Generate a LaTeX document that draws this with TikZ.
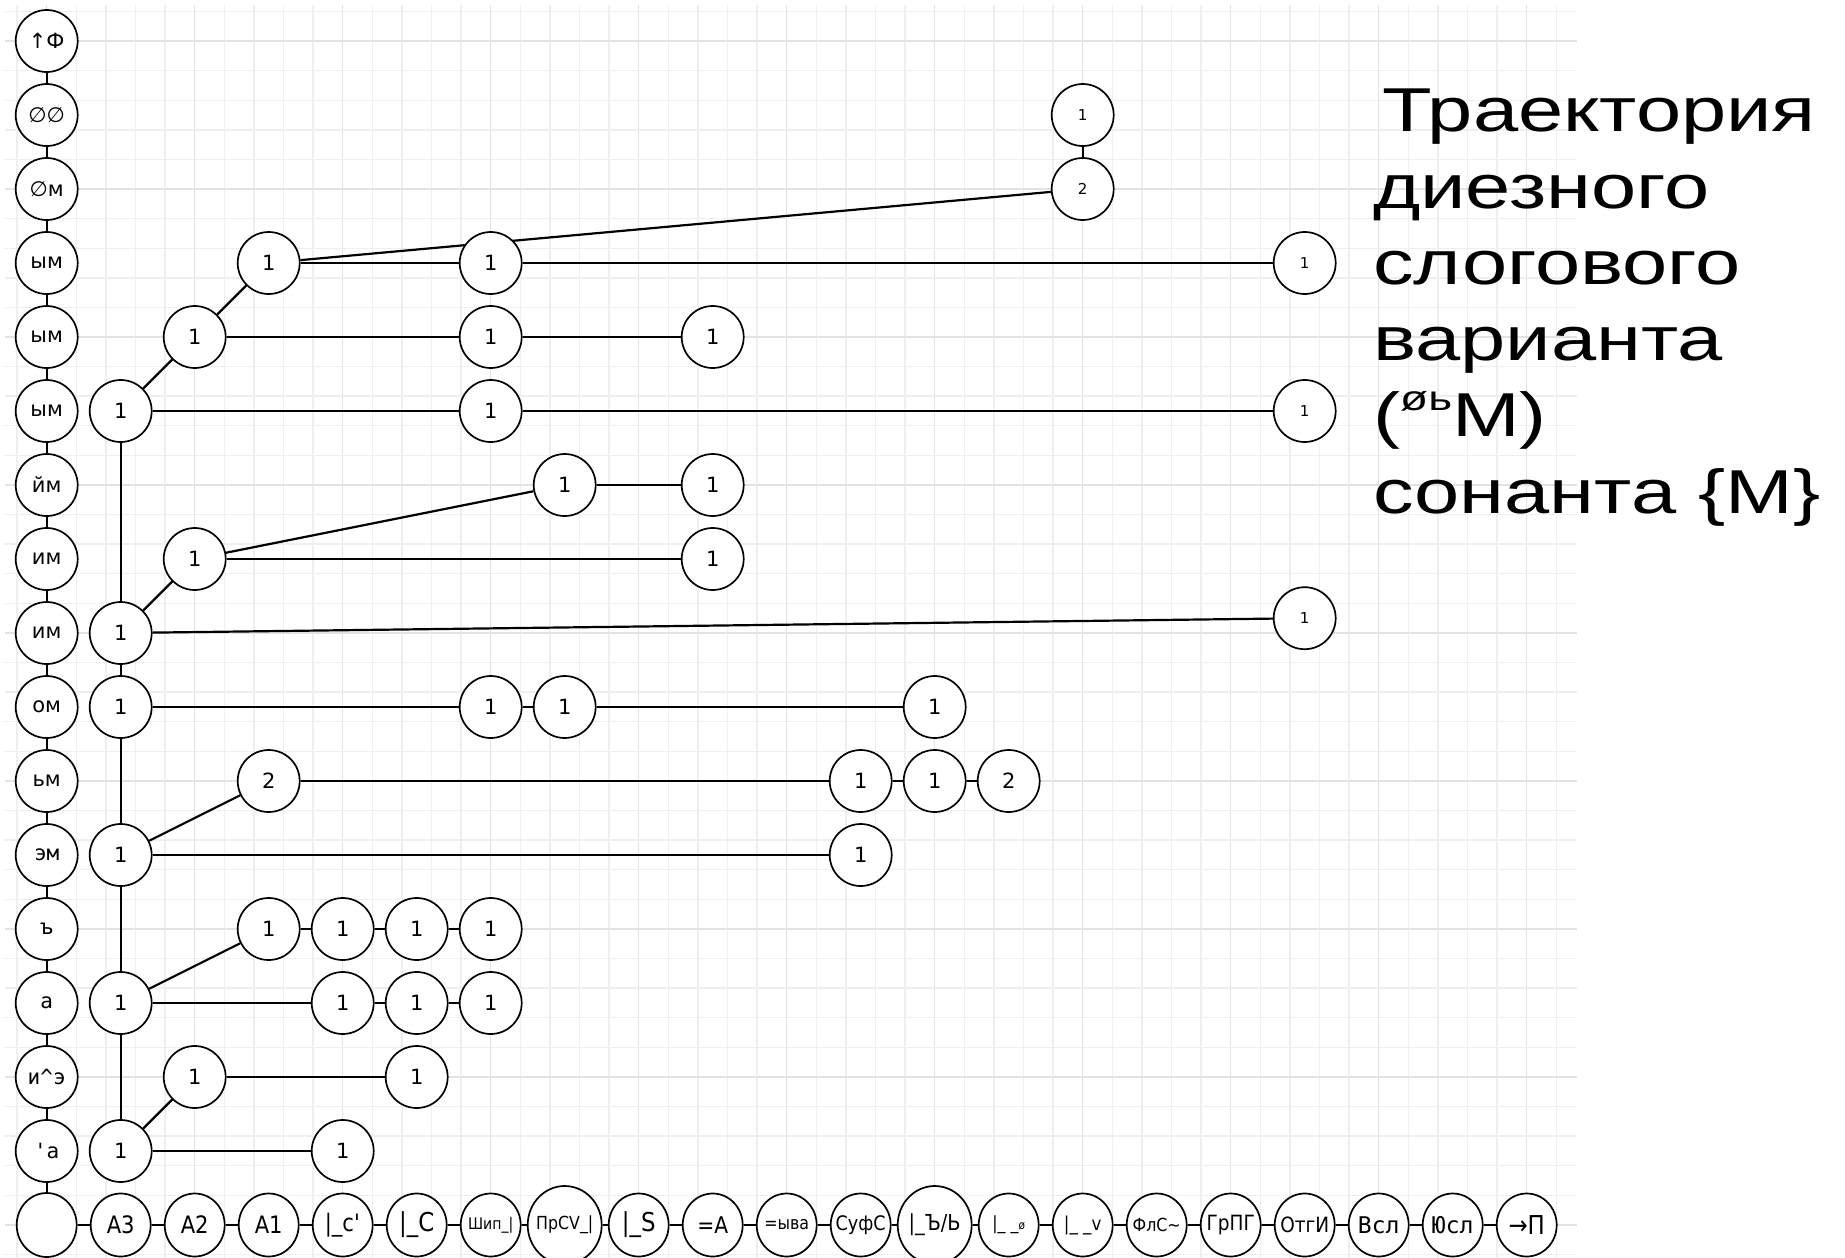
\documentclass[tikz,border=0pt]{standalone}
\usepackage{fontspec}
\setmainfont{DejaVu Sans}
\newfontfamily\titlefont[FakeStretch=1.31]{Liberation Sans}
\newfontfamily\monof{DejaVu Sans Mono}
\newfontfamily\condf[FakeStretch=0.88]{DejaVu Sans}
\usetikzlibrary{shapes.geometric}
\pgfdeclarelayer{gridlayer}
\pgfdeclarelayer{edgelayer}
\pgfsetlayers{gridlayer,edgelayer,main}
\definecolor{gminor}{HTML}{EFEFEF}
\definecolor{gmajor}{HTML}{E3E3E3}
\newcommand\bl[1]{\makebox[0pt]{#1}}
\tikzset{
  cnode/.style={circle, draw=black, line width=0.85pt, fill=white, minimum size=31pt, inner sep=0pt, font=\fontsize{10.5pt}{12pt}\selectfont},
  smalln/.style={cnode, font=\fontsize{7.5pt}{9pt}\selectfont},
  monon/.style={cnode, font=\monof\fontsize{10.5pt}{12pt}\selectfont},
  bnode/.style={ellipse, draw=black, line width=0.85pt, fill=white, minimum width=30pt, minimum height=31.5pt, inner sep=0pt, font=\condf\fontsize{12pt}{14pt}\selectfont},
  bigb/.style={bnode, minimum width=37pt, minimum height=39pt},
  conn/.style={line width=1.1pt, black},
  titletext/.style={anchor=base west, inner sep=0pt, font=\titlefont\fontsize{31pt}{38pt}\selectfont},
}
\begin{document}
\begin{tikzpicture}[x=37pt,y=-37pt]
\useasboundingbox (-0.6311,-0.5541) rectangle (24.3014,16.4459);
% left column
\node[cnode] (L0) at (0,0) {↑Ф};
\node[cnode] (L1) at (0,1) {∅∅};
\node[cnode] (L2) at (0,2) {∅м};
\node[cnode] (L3) at (0,3) {ым};
\node[cnode] (L4) at (0,4) {ым};
\node[cnode] (L5) at (0,5) {ым};
\node[cnode] (L6) at (0,6) {йм};
\node[cnode] (L7) at (0,7) {им};
\node[cnode] (L8) at (0,8) {им};
\node[cnode] (L9) at (0,9) {ом};
\node[cnode] (L10) at (0,10) {ьм};
\node[monon] (L11) at (0,11) {эм};
\node[monon] (L12) at (0,12) {ъ};
\node[monon] (L13) at (0,13) {а};
\node[monon] (L14) at (0,14) {и\textasciicircum э};
\node[monon] (L15) at (0,15) {\textquotesingle а};
\node[bnode, minimum height=32pt] (L16) at (0,16) {};
% bottom row
\node[bnode] (B1) at (1,16) {\bl{А3}};
\node[bnode] (B2) at (2,16) {\bl{А2}};
\node[bnode] (B3) at (3,16) {\bl{А1}};
\node[bnode] (B4) at (4,16) {\bl{|\_с\textquotesingle}};
\node[bnode, font=\condf\fontsize{13pt}{15pt}\selectfont] (B5) at (5,16) {\bl{|\_С}};
\node[bnode, font=\condf\fontsize{8pt}{10pt}\selectfont] (B6) at (6,16) {\bl{Шип\_|}};
\node[bigb, font=\condf\fontsize{9pt}{11pt}\selectfont] (B7) at (7,16) {\bl{ПрCV\_|}};
\node[bnode, font=\condf\fontsize{13pt}{15pt}\selectfont] (B8) at (8,16) {\bl{|\_S}};
\node[bnode, font=\condf\fontsize{11.5pt}{13pt}\selectfont] (B9) at (9,16) {\bl{=А}};
\node[bnode, font=\condf\fontsize{9pt}{11pt}\selectfont] (B10) at (10,16) {\bl{=ыва}};
\node[bnode, font=\condf\fontsize{10pt}{12pt}\selectfont] (B11) at (11,16) {\bl{СуфС}};
\node[bigb, font=\condf\fontsize{11pt}{13pt}\selectfont] (B12) at (12,16) {\bl{|\_Ъ/Ь}};
\node[bnode, font=\condf\fontsize{9pt}{11pt}\selectfont] (B13) at (13,16) {\bl{|\_ \_{\fontsize{6pt}{7pt}\selectfont ø}}};
\node[bnode, font=\condf\fontsize{9.5pt}{11pt}\selectfont] (B14) at (14,16) {\bl{|\_ \_v}};
\node[bnode, font=\condf\fontsize{9pt}{11pt}\selectfont] (B15) at (15,16) {\bl{ФлС\textasciitilde}};
\node[bnode, font=\condf\fontsize{10.5pt}{12pt}\selectfont] (B16) at (16,16) {\bl{ГрПГ}};
\node[bnode, font=\condf\fontsize{10.5pt}{12pt}\selectfont] (B17) at (17,16) {\bl{ОтгИ}};
\node[bnode, font=\monof\fontsize{11.5pt}{13pt}\selectfont] (B18) at (18,16) {\bl{Всл}};
\node[bnode, font=\monof\fontsize{11.5pt}{13pt}\selectfont] (B19) at (19,16) {\bl{Юсл}};
\node[bnode, font=\condf\fontsize{13pt}{15pt}\selectfont] (B20) at (20,16) {\bl{→П}};
% inner nodes
\node[smalln] (a14r1) at (14,1) {1};
\node[smalln] (a14r2) at (14,2) {2};
\node[cnode] (a3r3) at (3,3) {1};
\node[cnode] (a6r3) at (6,3) {1};
\node[smalln] (a17r3) at (17,3) {1};
\node[cnode] (a2r4) at (2,4) {1};
\node[cnode] (a6r4) at (6,4) {1};
\node[cnode] (a9r4) at (9,4) {1};
\node[cnode] (a1r5) at (1,5) {1};
\node[cnode] (a6r5) at (6,5) {1};
\node[smalln] (a17r5) at (17,5) {1};
\node[cnode] (a7r6) at (7,6) {1};
\node[cnode] (a9r6) at (9,6) {1};
\node[cnode] (a2r7) at (2,7) {1};
\node[cnode] (a9r7) at (9,7) {1};
\node[cnode] (a1r8) at (1,8) {1};
\node[smalln] (a17r8) at (17,7.8) {1};
\node[cnode] (a1r9) at (1,9) {1};
\node[cnode] (a6r9) at (6,9) {1};
\node[cnode] (a7r9) at (7,9) {1};
\node[cnode] (a12r9) at (12,9) {1};
\node[cnode] (a3r10) at (3,10) {2};
\node[cnode] (a11r10) at (11,10) {1};
\node[cnode] (a12r10) at (12,10) {1};
\node[cnode] (a13r10) at (13,10) {2};
\node[cnode] (a1r11) at (1,11) {1};
\node[cnode] (a11r11) at (11,11) {1};
\node[cnode] (a3r12) at (3,12) {1};
\node[cnode] (a4r12) at (4,12) {1};
\node[cnode] (a5r12) at (5,12) {1};
\node[cnode] (a6r12) at (6,12) {1};
\node[cnode] (a1r13) at (1,13) {1};
\node[cnode] (a4r13) at (4,13) {1};
\node[cnode] (a5r13) at (5,13) {1};
\node[cnode] (a6r13) at (6,13) {1};
\node[cnode] (a2r14) at (2,14) {1};
\node[cnode] (a5r14) at (5,14) {1};
\node[cnode] (a1r15) at (1,15) {1};
\node[cnode] (a4r15) at (4,15) {1};
% title
\node[titletext] (t1) at (18.05,1.226) {Траектория};
\node[titletext] (t2) at (17.92,2.257) {диезного};
\node[titletext] (t3) at (17.92,3.288) {слогового};
\node[titletext] (t4) at (17.92,4.319) {варианта};
\node[titletext] (t5) at (17.92,5.350) {(\raisebox{13pt}{\fontsize{17.5pt}{18pt}\selectfont øь}М)};
\node[titletext] (t6) at (17.92,6.381) {сонанта \{М\}};
% connectors
\begin{pgfonlayer}{edgelayer}
\foreach \a/\b in {L0/L1,L1/L2,L2/L3,L3/L4,L4/L5,L5/L6,L6/L7,L7/L8,L8/L9,L9/L10,L10/L11,L11/L12,L12/L13,L13/L14,L14/L15,L15/L16,
  L16/B1,B1/B2,B2/B3,B3/B4,B4/B5,B5/B6,B6/B7,B7/B8,B8/B9,B9/B10,B10/B11,B11/B12,B12/B13,B13/B14,B14/B15,B15/B16,B16/B17,B17/B18,B18/B19,B19/B20,
  a1r5/a1r8,a1r8/a1r9,a1r9/a1r11,a1r11/a1r13,a1r13/a1r15,
  a1r15/a2r14,a2r14/a5r14,a1r15/a4r15,
  a1r13/a3r12,a3r12/a4r12,a4r12/a5r12,a5r12/a6r12,a1r13/a4r13,a4r13/a5r13,a5r13/a6r13,
  a1r11/a3r10,a3r10/a11r10,a11r10/a12r10,a12r10/a13r10,a1r11/a11r11,
  a1r9/a6r9,a6r9/a7r9,a7r9/a12r9,
  a1r8/a2r7,a2r7/a7r6,a2r7/a9r7,a7r6/a9r6,a1r8/a17r8,
  a1r5/a2r4,a2r4/a3r3,a3r3/a6r3,a6r3/a17r3,a3r3/a14r2,a14r2/a14r1,a2r4/a6r4,a6r4/a9r4,a1r5/a6r5,a6r5/a17r5}
  \draw[conn] (\a) -- (\b);
\end{pgfonlayer}
% grid
\begin{pgfonlayer}{gridlayer}
\fill[white] (-0.6311,-0.5541) rectangle (24.3014,16.4459);
\foreach \k in {-1,...,51}{
  \pgfmathtruncatemacro\mm{mod(\k+5,5)}
  \ifnum\mm=0 \draw[gmajor,line width=0.7pt] ({0.4*\k},-0.486) -- ({0.4*\k},16.4459);
  \else \draw[gminor,line width=0.7pt] ({0.4*\k},-0.486) -- ({0.4*\k},16.4459); \fi
}
\foreach \k in {-1,...,41}{
  \pgfmathtruncatemacro\mm{mod(\k+5,5)}
  \ifnum\mm=0 \draw[gmajor,line width=0.7pt] (-0.5635,{0.4*\k}) -- (20.68,{0.4*\k});
  \else \draw[gminor,line width=0.7pt] (-0.5635,{0.4*\k}) -- (20.68,{0.4*\k}); \fi
}
\end{pgfonlayer}
\end{tikzpicture}
\end{document}
